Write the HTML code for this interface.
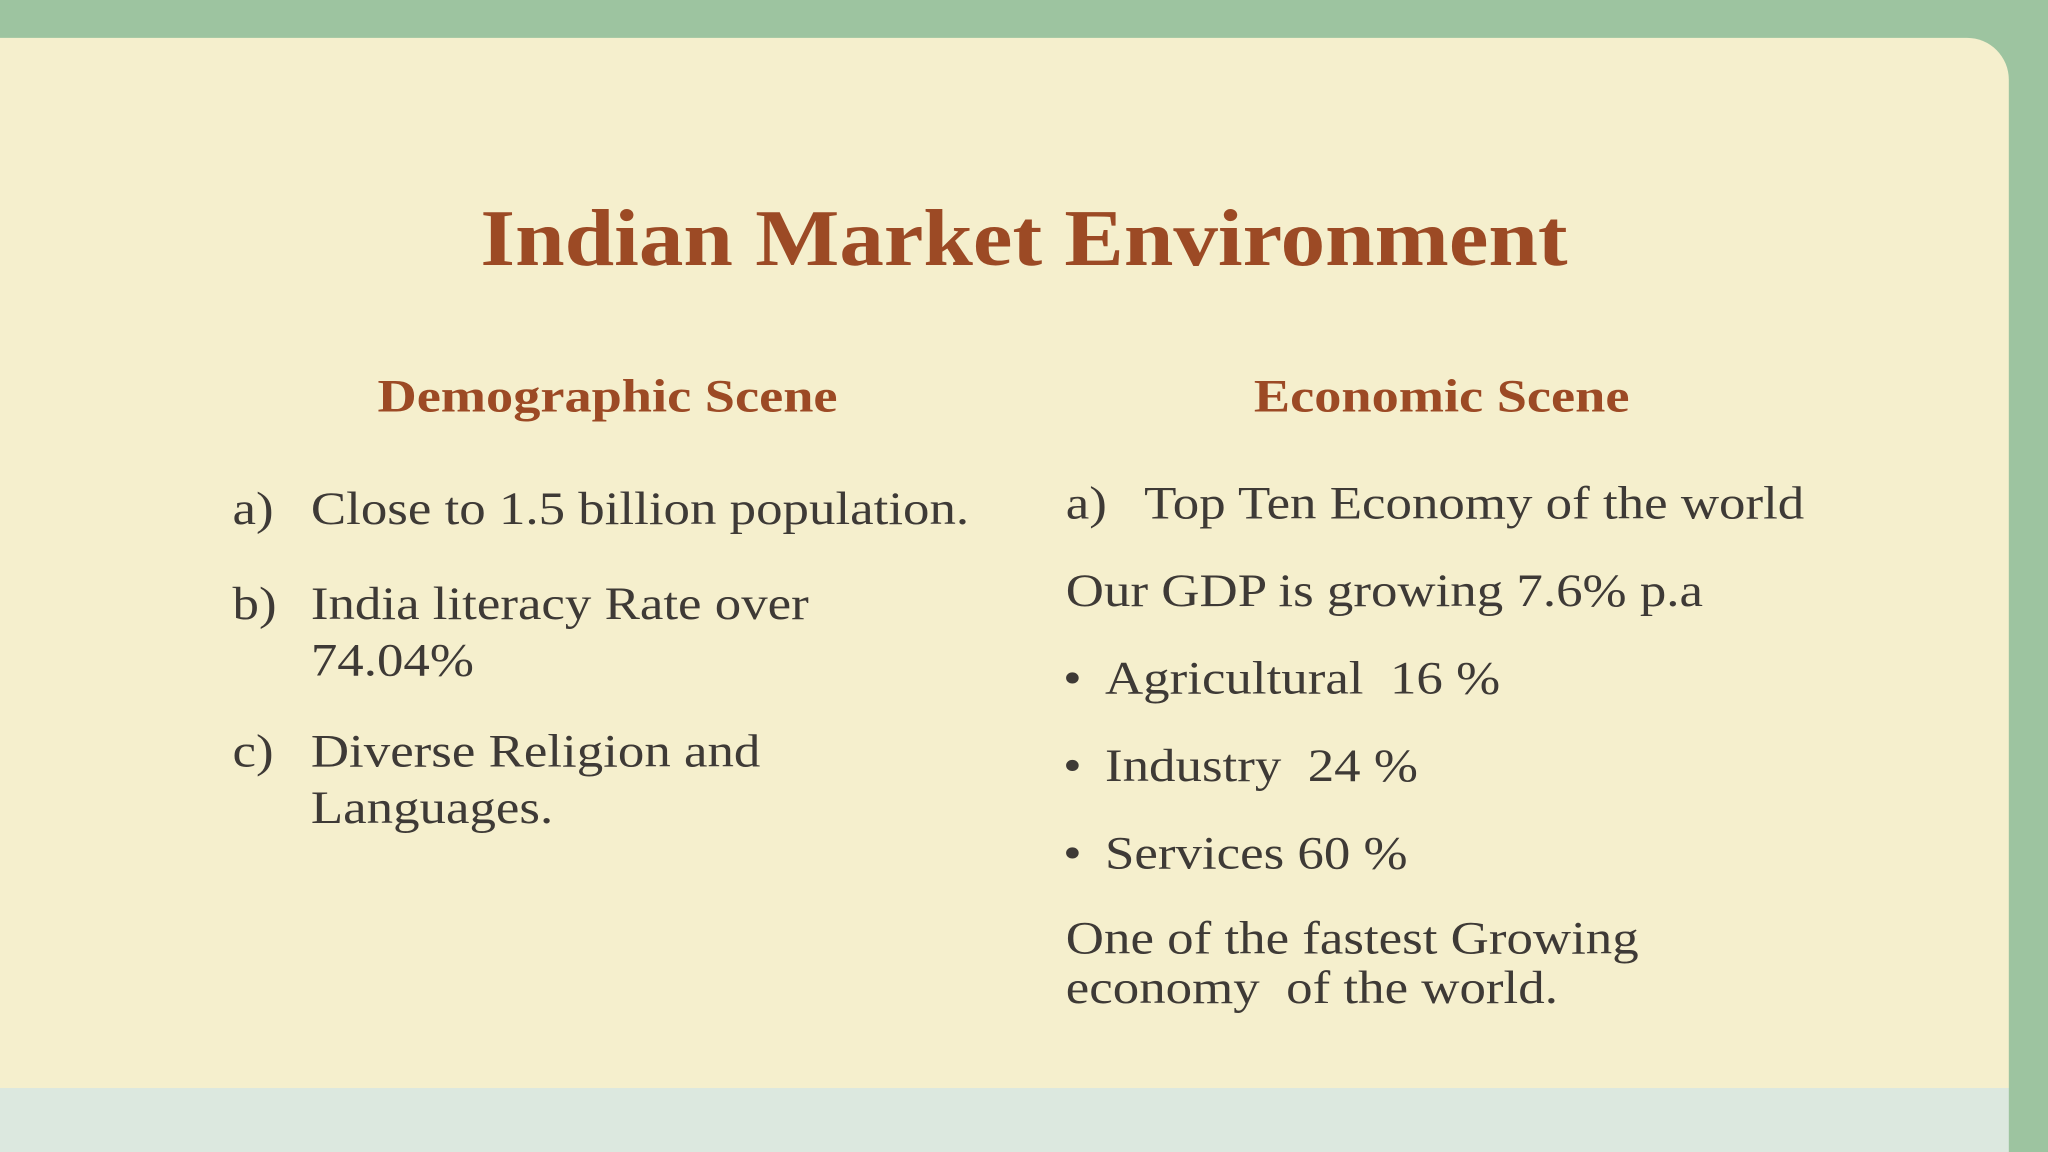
<!DOCTYPE html>
<html><head><meta charset="utf-8"><style>
html,body{margin:0;padding:0;width:2048px;height:1152px;overflow:hidden;background:#9dc4a0;}
#stage{position:absolute;left:0;top:0;width:1568px;height:882px;transform:scale(1.306122);transform-origin:0 0;font-family:"Liberation Serif",serif;}
#panel{position:absolute;left:0;top:29px;width:1538px;height:804px;background:#f5efcd;border-top-right-radius:32px;}
#band{position:absolute;left:0;top:833px;width:1538px;height:49px;background:#dce8df;}
.t{position:absolute;white-space:nowrap;line-height:1;transform-origin:0 0;}
.title{font-weight:bold;color:#9c4a25;font-size:62px;left:0;width:1568px;text-align:center;top:152px;transform:scaleX(1.10);transform-origin:784px 0;}
.h{font-weight:bold;color:#9c4a25;font-size:36px;transform:scaleX(1.155);}
.b{color:#3e3a36;font-size:36px;line-height:43px;transform:scaleX(1.125);}
</style></head><body>
<div id="stage">
<div id="panel"></div>
<div id="band"></div>
<div class="t title">Indian Market Environment</div>
<div class="t h" style="left:289px;top:285px">Demographic Scene</div>
<div class="t h" style="left:960px;top:285px">Economic Scene</div>

<div class="t b" style="left:178px;top:368px">a)</div>
<div class="t b" style="left:238px;top:368px">Close to 1.5 billion population.</div>
<div class="t b" style="left:178px;top:441px">b)</div>
<div class="t b" style="left:238px;top:441px">India literacy Rate over<br>74.04%</div>
<div class="t b" style="left:178px;top:554px">c)</div>
<div class="t b" style="left:238px;top:554px">Diverse Religion and<br>Languages.</div>

<div class="t b" style="left:816px;top:364px">a)</div>
<div class="t b" style="left:876px;top:364px">Top Ten Economy of the world</div>
<div class="t b" style="left:816px;top:431px">Our GDP is growing 7.6% p.a</div>
<div class="t b" style="left:814px;top:498px">•</div>
<div class="t b" style="left:846px;top:498px">Agricultural&nbsp; 16 %</div>
<div class="t b" style="left:814px;top:565px">•</div>
<div class="t b" style="left:846px;top:565px">Industry&nbsp; 24 %</div>
<div class="t b" style="left:814px;top:632px">•</div>
<div class="t b" style="left:846px;top:632px">Services 60 %</div>
<div class="t b" style="left:816px;top:699px;line-height:38px">One of the fastest Growing<br>economy&nbsp; of the world.</div>
</div>
</body></html>
